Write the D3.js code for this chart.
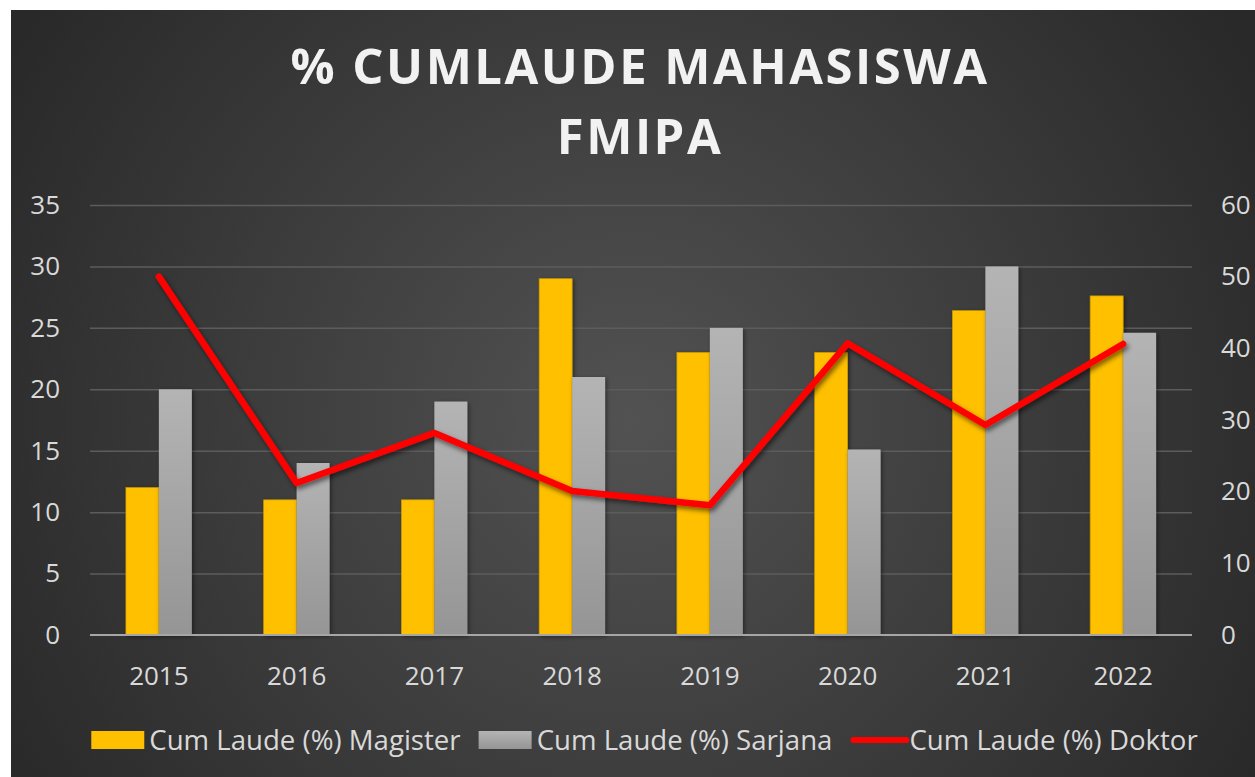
<!DOCTYPE html>
<html>
<head>
<meta charset="utf-8">
<script src="https://cdn.jsdelivr.net/npm/d3@7"></script>
<style>
  body { margin: 0; background: #fff; }
  text { font-family: "Open Sans", sans-serif; }
</style>
</head>
<body>
<div id="chart-area"></div>
<script>
// data
const years = ["2015", "2016", "2017", "2018", "2019", "2020", "2021", "2022"]
const magister = [12, 11, 11, 29, 23, 23, 26.4, 27.6]
const sarjana = [20, 14, 19, 21, 25, 15.1, 30, 24.6]
const doktor = [50, 21.2, 28.2, 20.1, 18.1, 40.7, 29.3, 40.6]
const leftTicks = [0, 5, 10, 15, 20, 25, 30, 35]
const rightTicks = [0, 10, 20, 30, 40, 50, 60]
const seriesNames = ["Cum Laude (%) Magister", "Cum Laude (%) Sarjana", "Cum Laude (%) Doktor"]
const titleLines = ["% CUMLAUDE MAHASISWA", "FMIPA"]

const W = 1255, H = 777
const PLOT = { LEFT: 90, RIGHT: 1192, TOP: 205, BOTTOM: 635 }

const svg = d3.select("#chart-area").append("svg")
  .attr("width", W)
  .attr("height", H)

const defs = svg.append("defs")

// fundo com gradiente radial
const bg = defs.append("radialGradient")
  .attr("id", "bg")
  .attr("gradientUnits", "userSpaceOnUse")
  .attr("cx", 630).attr("cy", 420).attr("r", 720)
bg.append("stop").attr("offset", "0").attr("stop-color", "#525252")
bg.append("stop").attr("offset", "1").attr("stop-color", "#292929")

const grey = defs.append("linearGradient")
  .attr("id", "grey")
  .attr("x1", 0).attr("y1", 0).attr("x2", 0).attr("y2", 1)
grey.append("stop").attr("offset", "0").attr("stop-color", "#b4b4b4")
grey.append("stop").attr("offset", "1").attr("stop-color", "#959595")

const shadow = defs.append("filter").attr("id", "shadow")
  .attr("x", "-20%").attr("y", "-20%").attr("width", "140%").attr("height", "140%")
shadow.append("feDropShadow")
  .attr("dx", 2).attr("dy", 3).attr("stdDeviation", 2.5)
  .attr("flood-color", "#000").attr("flood-opacity", 0.55)

const barShadow = defs.append("filter").attr("id", "barShadow")
  .attr("x", "-20%").attr("y", "-5%").attr("width", "140%").attr("height", "110%")
barShadow.append("feDropShadow")
  .attr("dx", 1.5).attr("dy", 1.5).attr("stdDeviation", 2)
  .attr("flood-color", "#000").attr("flood-opacity", 0.45)

svg.append("rect")
  .attr("x", 11).attr("y", 10)
  .attr("width", W - 11).attr("height", H - 10)
  .attr("fill", "url(#bg)")

// titulo
svg.append("text")
  .attr("x", 640)
  .attr("text-anchor", "middle")
  .attr("fill", "#f2f2f2")
  .attr("font-size", "49px")
  .attr("font-weight", 700)
  .attr("letter-spacing", "2.5px")
  .selectAll("tspan")
  .data(titleLines)
  .join("tspan")
  .attr("x", 640)
  .attr("y", (d, i) => 84 + i * 70)
  .text(d => d)

// escalas
const x0 = d3.scaleBand().domain(years).range([PLOT.LEFT, PLOT.RIGHT])
const x1 = d3.scaleBand().domain(["mag", "sar"]).range([0, x0.bandwidth()]).paddingOuter(1.09)
const yL = d3.scaleLinear().domain([0, 35]).range([PLOT.BOTTOM, PLOT.TOP])
const yR = d3.scaleLinear().domain([0, 60]).range([PLOT.BOTTOM, PLOT.TOP])

// grade
const grid = svg.append("g")
  .attr("transform", `translate(${PLOT.LEFT},0)`)
  .call(d3.axisLeft(yL).tickValues(leftTicks.slice(1)).tickSize(-(PLOT.RIGHT - PLOT.LEFT)).tickFormat(""))
grid.select(".domain").remove()
grid.selectAll("line").attr("stroke", "#5c5c5c").attr("stroke-width", 1.5)

// eixo esquerdo
const axL = svg.append("g")
  .attr("transform", `translate(${PLOT.LEFT - 30},0)`)
  .call(d3.axisLeft(yL).tickValues(leftTicks).tickSize(0).tickPadding(0))
axL.select(".domain").remove()
axL.selectAll("text")
  .attr("fill", "#d9d9d9").attr("font-size", "26px").attr("font-family", "Open Sans")

// eixo direito
const axR = svg.append("g")
  .attr("transform", `translate(${PLOT.RIGHT + 29},0)`)
  .call(d3.axisRight(yR).tickValues(rightTicks).tickSize(0).tickPadding(0))
axR.select(".domain").remove()
axR.selectAll("text")
  .attr("fill", "#d9d9d9").attr("font-size", "26px").attr("font-family", "Open Sans")

// eixo x
const axX = svg.append("g")
  .attr("transform", `translate(0,${PLOT.BOTTOM})`)
  .call(d3.axisBottom(x0).tickSize(0).tickPadding(32))
axX.select(".domain").remove()
axX.selectAll("text")
  .attr("fill", "#d9d9d9").attr("font-size", "26px").attr("font-family", "Open Sans")

// barras
const groups = svg.append("g").selectAll("g")
  .data(years)
  .join("g")
  .attr("transform", d => `translate(${x0(d)},0)`)

groups.append("rect")
  .attr("x", x1("mag"))
  .attr("y", (d, i) => yL(magister[i]))
  .attr("width", x1.bandwidth())
  .attr("height", (d, i) => yL(0) - yL(magister[i]))
  .attr("fill", "#ffc000")
  .attr("stroke", "#c99a00")
  .attr("stroke-width", 0.7)
  .attr("filter", "url(#barShadow)")

groups.append("rect")
  .attr("x", x1("sar"))
  .attr("y", (d, i) => yL(sarjana[i]))
  .attr("width", x1.bandwidth())
  .attr("height", (d, i) => yL(0) - yL(sarjana[i]))
  .attr("fill", "url(#grey)")
  .attr("filter", "url(#barShadow)")

// linha base
svg.append("line")
  .attr("x1", PLOT.LEFT).attr("x2", PLOT.RIGHT)
  .attr("y1", yL(0)).attr("y2", yL(0))
  .attr("stroke", "#a6a6a6").attr("stroke-width", 2)

// linha doktor
const line = d3.line()
  .x((d, i) => x0(years[i]) + x0.bandwidth() / 2)
  .y(d => yR(d))

svg.append("path")
  .attr("d", line(doktor))
  .attr("fill", "none")
  .attr("stroke", "#ff0000")
  .attr("stroke-width", 6.5)
  .attr("stroke-linejoin", "round")
  .attr("stroke-linecap", "round")
  .attr("filter", "url(#shadow)")

// legenda
const legend = svg.append("g")
let cursor = 0
seriesNames.forEach((name, i) => {
  const g = legend.append("g")
  const swW = 53
  if (i === 0) {
    g.append("rect").attr("x", 0).attr("y", -9).attr("width", swW).attr("height", 18).attr("fill", "#ffc000")
  } else if (i === 1) {
    g.append("rect").attr("x", 0).attr("y", -9).attr("width", swW).attr("height", 18).attr("fill", "url(#grey)")
  } else {
    g.append("line").attr("x1", 3).attr("x2", swW + 3).attr("y1", 0).attr("y2", 0)
      .attr("stroke", "#ff0000").attr("stroke-width", 6).attr("stroke-linecap", "round")
  }
  const t = g.append("text")
    .attr("x", swW + (i === 2 ? 6 : 5))
    .attr("dy", "0.35em")
    .attr("fill", "#d9d9d9")
    .attr("font-size", "27.6px")
    .attr("font-family", "Open Sans")
    .text(name)
  const w = swW + 5 + t.node().getComputedTextLength()
  g.attr("transform", `translate(${cursor},740)`)
  cursor += w + 18
})
const total = cursor - 18
legend.attr("transform", `translate(${644 - total / 2},0)`)
</script>
</body>
</html>
